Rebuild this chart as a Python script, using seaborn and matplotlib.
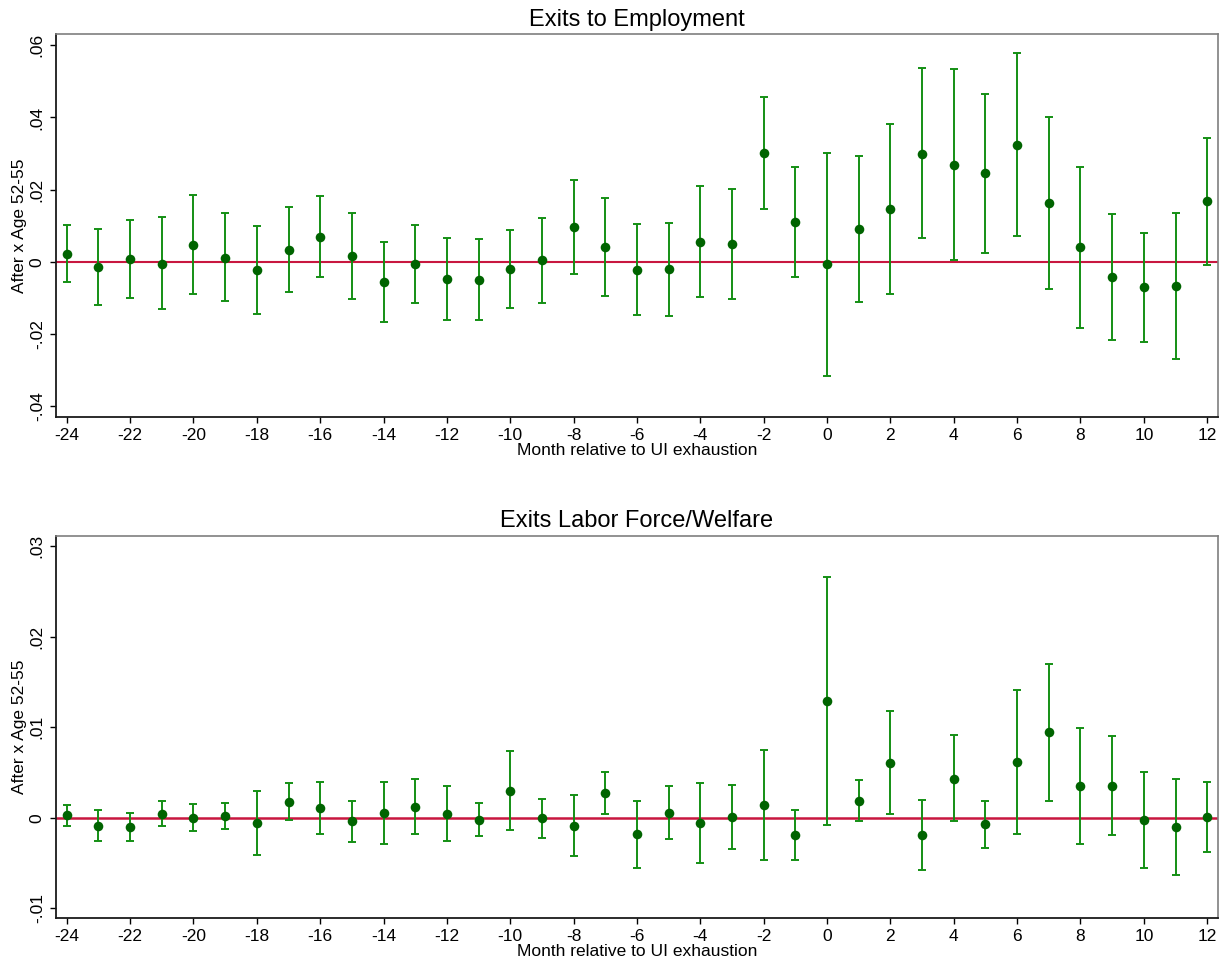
import numpy as np
import pandas as pd
import matplotlib
matplotlib.use("Agg")
import matplotlib.pyplot as plt
import seaborn as sns

# ---------------- data ----------------
months = list(range(-24, 13))

emp_coef = [0.0022, -0.0015, 0.0008, -0.0005, 0.0048, 0.0012, -0.0023, 0.0034, 0.0068, 0.0015,
            -0.0057, -0.0007, -0.0048, -0.0050, -0.0020, 0.0004, 0.0096, 0.0041, -0.0022, -0.0020,
            0.0056, 0.0050, 0.0301, 0.0110, -0.0007, 0.0090, 0.0147, 0.0300, 0.0268, 0.0245,
            0.0325, 0.0163, 0.0040, -0.0042, -0.0071, -0.0066, 0.0168]
emp_hi = [0.0101, 0.0091, 0.0117, 0.0123, 0.0185, 0.0134, 0.0098, 0.0151, 0.0182, 0.0135,
          0.0054, 0.0101, 0.0066, 0.0063, 0.0089, 0.0121, 0.0226, 0.0176, 0.0105, 0.0108,
          0.0211, 0.0203, 0.0458, 0.0263, 0.0301, 0.0293, 0.0382, 0.0537, 0.0533, 0.0466,
          0.0579, 0.0402, 0.0264, 0.0133, 0.0080, 0.0136, 0.0344]
emp_lo = [-0.0056, -0.0120, -0.0101, -0.0131, -0.0088, -0.0108, -0.0144, -0.0083, -0.0042, -0.0103,
          -0.0166, -0.0114, -0.0160, -0.0160, -0.0128, -0.0113, -0.0034, -0.0094, -0.0148, -0.0149,
          -0.0098, -0.0103, 0.0146, -0.0042, -0.0316, -0.0112, -0.0088, 0.0065, 0.0005, 0.0025,
          0.0072, -0.0074, -0.0183, -0.0216, -0.0222, -0.0269, -0.0008]

lfw_coef = [0.00026, -0.0009, -0.0010, 0.00044, 0.0000, 0.00015, -0.0006, 0.0017, 0.0011, -0.0004,
            0.00055, 0.0012, 0.00044, -0.0002, 0.0030, -0.00004, -0.0009, 0.0027, -0.0018, 0.00055,
            -0.0006, 0.00004, 0.0014, -0.0019, 0.0129, 0.0019, 0.0061, -0.0019, 0.0043, -0.0007,
            0.0062, 0.0095, 0.0035, 0.0035, -0.0003, -0.0010, 0.0001]
lfw_hi = [0.0014, 0.0008, 0.00055, 0.0018, 0.0015, 0.0016, 0.0029, 0.0038, 0.0039, 0.0019,
          0.0040, 0.0043, 0.0035, 0.0016, 0.0074, 0.0021, 0.0025, 0.0050, 0.0019, 0.0035,
          0.0038, 0.0036, 0.0075, 0.0009, 0.0266, 0.0042, 0.0118, 0.0020, 0.0091, 0.0019,
          0.0141, 0.0170, 0.0099, 0.0090, 0.0050, 0.0043, 0.0040]
lfw_lo = [-0.0009, -0.0026, -0.0026, -0.0009, -0.0015, -0.0013, -0.0041, -0.0003, -0.0018, -0.0027,
          -0.0029, -0.0018, -0.0026, -0.0020, -0.0014, -0.0022, -0.0042, 0.0004, -0.0056, -0.0024,
          -0.0050, -0.0035, -0.0047, -0.0047, -0.0008, -0.0004, 0.0004, -0.0058, -0.0004, -0.0033,
          -0.0018, 0.0019, -0.0029, -0.0019, -0.0056, -0.0063, -0.0038]

titles = ["Exits to Employment", "Exits Labor Force/Welfare"]
xlabel = "Month relative to UI exhaustion"
ylabel = "After x Age 52-55"
xticks = list(range(-24, 13, 2))
emp_yticks = [-0.04, -0.02, 0.0, 0.02, 0.04, 0.06]
emp_yticklabels = ["-.04", "-.02", "0", ".02", ".04", ".06"]
lfw_yticks = [-0.01, 0.0, 0.01, 0.02, 0.03]
lfw_yticklabels = ["-.01", "0", ".01", ".02", ".03"]

# ---------------- style ----------------
sns.set_theme(style="white")
plt.rcParams["font.family"] = ["Liberation Sans", "DejaVu Sans"]
plt.rcParams["text.color"] = "black"
plt.rcParams["axes.labelcolor"] = "black"
plt.rcParams["xtick.color"] = "black"
plt.rcParams["ytick.color"] = "black"

BAR_COLOR = "#148f14"
PT_COLOR = "#006400"
LINE_COLOR = "#c8173f"

fig = plt.figure(figsize=(12.25, 9.68), dpi=100)
ax_top = fig.add_axes([0.0457, 0.5695, 0.9483, 0.3953])
ax_bot = fig.add_axes([0.0457, 0.0513, 0.9483, 0.3952])

panels = [
    (ax_top, emp_coef, emp_lo, emp_hi, emp_yticks, emp_yticklabels, (-0.0429, 0.0631), titles[0], 1.5),
    (ax_bot, lfw_coef, lfw_lo, lfw_hi, lfw_yticks, lfw_yticklabels, (-0.01112, 0.03116), titles[1], 1.8),
]

for ax, coef, lo, hi, yt, ytl, ylim, title, zlw in panels:
    df = pd.DataFrame({"month": months, "coef": coef, "lo": lo, "hi": hi})
    ax.axhline(0, color=LINE_COLOR, lw=zlw, zorder=2)
    ax.errorbar(df["month"], df["coef"],
                yerr=[df["coef"] - df["lo"], df["hi"] - df["coef"]],
                fmt="none", ecolor=BAR_COLOR, elinewidth=1.4, capsize=2.6, capthick=1.4,
                zorder=3)
    sns.scatterplot(data=df, x="month", y="coef", ax=ax, color=PT_COLOR, s=48,
                    edgecolor=PT_COLOR, linewidth=0, zorder=4, legend=False)
    ax.set_xlim(-24.34, 12.33)
    ax.set_ylim(*ylim)
    ax.set_xticks(xticks)
    ax.set_xticklabels([str(v) for v in xticks], fontsize=12.5)
    ax.set_yticks(yt)
    ax.set_yticklabels(ytl, fontsize=12.5, rotation=90, va="center")
    ax.set_xlabel(xlabel, fontsize=12.5, labelpad=0)
    ax.set_ylabel(ylabel, fontsize=12.5, labelpad=2)
    ax.set_title(title, fontsize=17, pad=6, color="black")
    ax.tick_params(axis="both", direction="out", length=4.5, width=1, color="black",
                   labelcolor="black", pad=3.5, bottom=True, left=True)
    for side in ["left", "bottom"]:
        ax.spines[side].set_color("#1a1a1a")
        ax.spines[side].set_linewidth(1.3)
    for side in ["top", "right"]:
        ax.spines[side].set_color("#7f7f7f")
        ax.spines[side].set_linewidth(1.2)
    ax.grid(False)

fig.savefig("out.png", dpi=100, facecolor="white")
